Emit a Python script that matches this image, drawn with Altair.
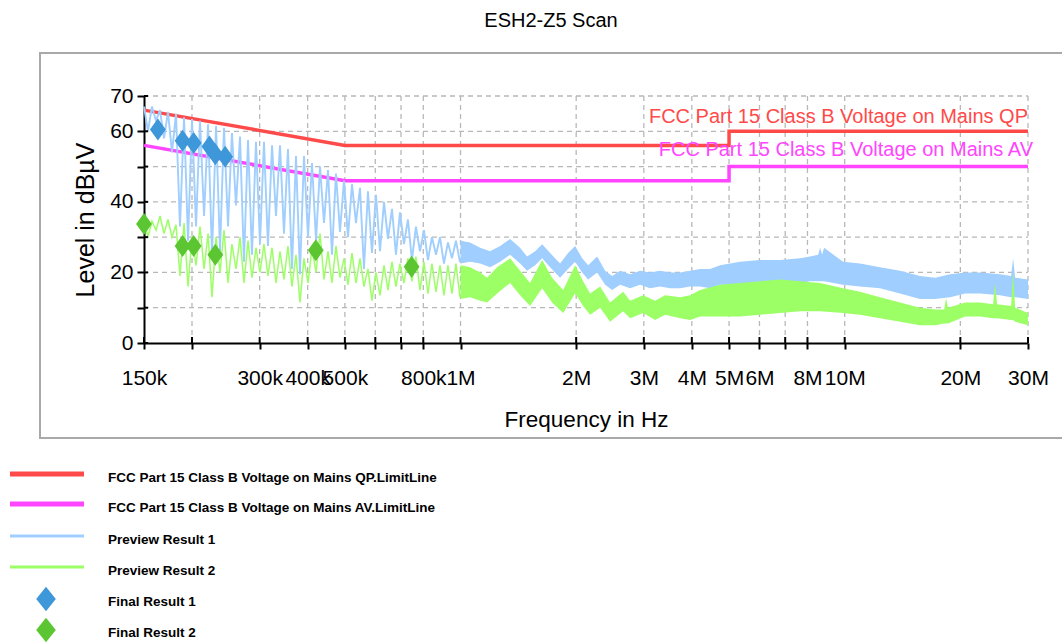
import altair as alt
import pandas as pd

FONT = "Liberation Sans, Arial, sans-serif"

chart_title = "ESH2-Z5 Scan"
x_title = "Frequency in Hz"
y_title = "Level in dBµV"

# axis ticks
x_tick_values = [150e3, 200e3, 300e3, 400e3, 500e3, 600e3, 700e3, 800e3, 1e6,
                 2e6, 3e6, 4e6, 5e6, 6e6, 7e6, 8e6, 10e6, 20e6, 30e6]
x_tick_labels = ["150k", "", "300k", "400k", "500k", "", "", "800k", "1M",
                 "2M", "3M", "4M", "5M", "6M", "", "8M", "10M", "20M", "30M"]
y_tick_values = [0, 10, 20, 30, 40, 50, 60, 70]
y_tick_labels = ["0", "", "20", "", "40", "", "60", "70"]

# limit lines (Hz, dBµV)
qp_name = "FCC Part 15 Class B Voltage  on Mains QP"
qp_freq = [150e3, 500e3, 5e6, 5e6, 30e6]
qp_level = [66, 56, 56, 60, 60]
av_name = "FCC Part 15 Class B Voltage  on Mains AV"
av_freq = [150e3, 500e3, 5e6, 5e6, 30e6]
av_level = [56, 46, 46, 50, 50]

# preview scans below 1 MHz (kHz, dBµV)
scan_khz = [150.0, 153.6, 157.3, 161.2, 165.1, 169.1, 173.2, 177.4, 181.7, 186.1,
            190.7, 195.3, 200.0, 204.9, 209.8, 215.0, 220.2, 225.5, 231.0, 236.6,
            242.3, 248.2, 254.1, 260.4, 266.7, 273.1, 279.8, 286.5, 293.5, 300.6,
            307.9, 315.3, 323.1, 330.9, 338.9, 347.1, 355.5, 364.1, 373.0, 382.0,
            391.3, 400.9, 410.6, 420.6, 430.8, 441.2, 451.9, 462.8, 474.0, 485.5,
            497.4, 509.4, 521.8, 534.4, 547.4, 560.6, 574.2, 588.1, 602.4, 617.1,
            632.1, 647.4, 663.1, 679.1, 695.6, 712.4, 729.7, 747.4, 765.5, 784.2,
            803.2, 822.6, 842.6, 863.2, 884.1, 905.5, 927.4, 949.9, 972.9, 996.5]
preview1_low = [67, 60, 67, 63, 66, 58, 65.5, 54, 65, 33,
                64, 29, 63.5, 33, 63, 36, 62, 25, 61.5, 26,
                61, 33, 59.5, 39, 58.5, 23, 57.5, 25, 57, 28,
                57, 27.5, 56, 36, 56, 31, 55, 21, 53, 19.5,
                53, 30, 51, 29, 50, 34, 49, 25, 48, 31.5,
                46, 30, 45, 34, 44, 21, 43, 25.5, 42, 26,
                40, 29.5, 38, 25, 37, 28, 35, 23.5, 33, 26,
                32, 23.5, 30, 25, 30, 22.5, 28.5, 24, 29, 23]
preview2_low = [35, 30, 34.5, 32, 36, 31, 35, 30, 33.5, 19,
                34, 16, 30, 22, 33, 21, 31, 13, 30, 20,
                32, 17, 28, 21, 30, 17, 29, 18.5, 27, 20,
                28, 19, 27, 17, 26, 18, 27.5, 16, 25, 11.5,
                24, 17, 27, 20, 31, 18, 26, 17, 27.5, 18.5,
                24, 16.5, 25.5, 17, 24, 16, 21, 12, 20, 13.5,
                22, 15, 23, 16, 22.5, 17, 24, 17.5, 24.5, 15,
                23, 14, 22.5, 14.5, 22, 13.5, 22, 14, 22.5, 13]

# preview scans above 1 MHz, min / max of the trace (MHz, dBµV)
p1_mhz = [1.0, 1.059, 1.125, 1.194, 1.268, 1.346, 1.429, 1.490, 1.564, 1.631,
          1.711, 1.816, 1.905, 1.988, 2.073, 2.149, 2.268, 2.379, 2.481, 2.602,
          2.763, 2.933, 3.114, 3.309, 3.513, 3.730, 3.960, 4.204, 4.463, 4.740,
          5.344, 6.025, 6.793, 7.656, 8.13, 8.53, 8.63, 8.73, 8.84, 9.90,
          10.96, 12.36, 13.93, 15.70, 17.19, 18.81, 20.58, 22.49, 25.35, 27.11,
          27.44, 27.77, 30.0]
p1_min = [22.5, 23, 22.5, 21.5, 23, 25, 22.5, 20.5, 22, 24,
          21.5, 18.5, 21, 23, 20, 18, 20, 16.5, 15, 16.5,
          15.5, 16.5, 15.5, 16, 15.5, 15.5, 16, 16, 15.5, 16.5,
          16.5, 17, 17, 17, 17.5, 17.5, 17.5, 17.5, 17.5, 16.5,
          16, 15.5, 14, 12.5, 12.5, 13, 14, 14, 13.5, 13,
          13, 13, 12.5]
p1_max = [29, 28.5, 27, 26, 27.5, 29.5, 27, 24.5, 26, 28,
          25.5, 22.5, 25.5, 27.5, 24, 22, 24.5, 20.5, 19, 20.5,
          19.5, 20.5, 20, 20.5, 20, 20, 20.5, 21, 21, 22,
          23, 23.5, 23.5, 24, 24.5, 25, 27, 25, 27, 23,
          22.5, 21.5, 20.5, 19, 18.5, 19.5, 20, 20, 19.5, 19,
          24, 18.5, 18]

p2_mhz = [1.0, 1.059, 1.125, 1.173, 1.245, 1.346, 1.429, 1.517, 1.631, 1.731,
          1.850, 1.988, 2.085, 2.174, 2.309, 2.451, 2.650, 2.763, 2.988, 3.210,
          3.408, 3.730, 3.960, 4.204, 4.740, 5.344, 6.025, 6.793, 7.656, 8.630,
          9.90, 10.96, 12.36, 13.93, 15.70, 17.19, 18.15, 18.36, 18.58, 20.58,
          22.49, 24.34, 24.63, 24.93, 27.11, 27.44, 27.77, 30.0]
p2_min = [12.5, 13, 12, 11.5, 14, 17, 13.5, 10.5, 15.5, 11.5,
          8.5, 14, 10.5, 8, 10, 6, 9, 7, 8.5, 6.5,
          8, 7, 6.5, 7.5, 7.5, 7.5, 8, 8.5, 9, 9,
          8.5, 8, 7, 6, 5, 5, 5.5, 5.5, 5.5, 7.5,
          7.5, 7, 7, 7, 6.5, 6.5, 6, 5]
p2_max = [22, 21.5, 20, 18.5, 21.5, 24, 20.5, 17, 23.5, 18.5,
          15, 22, 17.5, 14, 16, 11.5, 14.5, 12, 13.5, 12,
          13.5, 13, 13.5, 15, 16.5, 17, 17.5, 18, 17.5, 17,
          15.5, 14.5, 13, 11.5, 10, 9.5, 9.5, 12.7, 10, 11.5,
          11.5, 11, 17, 11, 10.5, 20, 10, 8.5]

# final measurements (kHz, dBµV)
final1_khz = [163, 189, 202, 222, 230, 244]
final1_level = [60.5, 57.3, 56.7, 55.7, 53.5, 52.8]
final2_khz = [150, 189, 202, 230, 420, 746]
final2_level = [33.7, 27.5, 27.5, 25.0, 26.3, 21.6]

legend_names = [qp_name + ".LimitLine", av_name + ".LimitLine",
                "Preview Result 1", "Preview Result 2",
                "Final Result 1", "Final Result 2"]

C_QP = "#ff4a4a"
C_AV = "#ff45ff"
C_P1 = "#9fceff"
C_P2 = "#9cff66"
C_F1 = "#3d97d8"
C_F2 = "#5cc632"
GRID = "#b8b8b8"

DIAMOND = "M-0.72,0L0,-1L0.72,0L0,1Z"
LEG_DIAMOND = "M-0.8,0L0,-1L0.8,0L0,1Z"

W, H = 884, 247
PAD = {"left": 144, "top": 96, "right": 34, "bottom": 301}


def label_expr(values, labels):
    expr = "''"
    for v, lab in zip(reversed(values), reversed(labels)):
        expr = f"datum.value == {v!r} ? '{lab}' : ({expr})"
    return expr


x_scale = alt.Scale(type="log", domain=[150e3, 30e6], nice=False)
y_scale = alt.Scale(domain=[0, 70], nice=False, zero=False)

x_axis = alt.Axis(values=x_tick_values, labelExpr=label_expr(x_tick_values, x_tick_labels),
                  grid=False, domainColor="black", domainWidth=2,
                  tickColor="black", tickWidth=2, tickSize=6,
                  labelFont=FONT, labelFontSize=21, labelColor="black",
                  labelPadding=18, labelOverlap=False, labelFlush=False,
                  labelBound=False, title=x_title, titleFont=FONT, titleFontSize=22.5,
                  titleFontWeight="normal", titleColor="black", titlePadding=20)
y_axis = alt.Axis(values=y_tick_values, labelExpr=label_expr(y_tick_values, y_tick_labels),
                  grid=False, domainColor="black", domainWidth=2,
                  tickColor="black", tickWidth=2, tickSize=7,
                  labelFont=FONT, labelFontSize=21, labelColor="black",
                  labelPadding=4, labelOverlap=False, labelFlush=False,
                  title=y_title, titleFont=FONT, titleFontSize=25,
                  titleFontWeight="normal", titleColor="black", titlePadding=11)


def X(field):
    return alt.X(f"{field}:Q", scale=x_scale, axis=x_axis)


def Y(field):
    return alt.Y(f"{field}:Q", scale=y_scale, axis=y_axis)


one = pd.DataFrame({"k": [0]})

# outer frame of the plot panel
frame = alt.Chart(one).mark_rect(filled=False, stroke="#a9a9a9", strokeWidth=2).encode(
    x=alt.value(-104), x2=alt.value(940), y=alt.value(-43), y2=alt.value(342))

title = alt.Chart(one).mark_text(text=chart_title, font=FONT, fontSize=20,
                                 color="black", baseline="middle").encode(
    x=alt.value(407), y=alt.value(-75))

# dashed grid at every tick except the axis lines themselves
grid_x = alt.Chart(pd.DataFrame({"f": [v for v in x_tick_values if v > x_tick_values[0]]})).mark_rule(
    color=GRID, strokeWidth=1.3, strokeDash=[5, 4]).encode(
    x=X("f"), y=alt.value(0), y2=alt.value(H))
grid_y = alt.Chart(pd.DataFrame({"v": [v for v in y_tick_values if v > y_tick_values[0]]})).mark_rule(
    color=GRID, strokeWidth=1.3, strokeDash=[5, 4]).encode(
    y=Y("v"), x=alt.value(0), x2=alt.value(W))

# inner halves of the tick marks (ticks cross the axis lines)
xt = alt.Chart(pd.DataFrame({"f": x_tick_values})).mark_rule(color="black", strokeWidth=2).encode(
    x=X("f"), y=alt.value(H), y2=alt.value(H - 6))
yt = alt.Chart(pd.DataFrame({"v": y_tick_values})).mark_rule(color="black", strokeWidth=2).encode(
    y=Y("v"), x=alt.value(0), x2=alt.value(4))

qp = alt.Chart(pd.DataFrame({"f": qp_freq, "v": qp_level})).mark_line(
    color=C_QP, strokeWidth=3.5).encode(x=X("f"), y=Y("v"))
av = alt.Chart(pd.DataFrame({"f": av_freq, "v": av_level})).mark_line(
    color=C_AV, strokeWidth=3.5).encode(x=X("f"), y=Y("v"))

qp_lab = alt.Chart(pd.DataFrame({"f": [qp_freq[-1]], "v": [qp_level[-1]]})).mark_text(
    text=qp_name, font=FONT, fontSize=20, color=C_QP, align="right",
    baseline="alphabetic", dy=-8).encode(x=X("f"), y=Y("v"))
av_lab = alt.Chart(pd.DataFrame({"f": [av_freq[-1]], "v": [av_level[-1]]})).mark_text(
    text=av_name, font=FONT, fontSize=20, color=C_AV, align="right",
    baseline="alphabetic", dx=5, dy=-11).encode(x=X("f"), y=Y("v"))

low = pd.DataFrame({"f": [k * 1e3 for k in scan_khz], "p1": preview1_low, "p2": preview2_low})
p1_line = alt.Chart(low).mark_line(color=C_P1, strokeWidth=1.9).encode(x=X("f"), y=Y("p1"))
p2_line = alt.Chart(low).mark_line(color=C_P2, strokeWidth=1.5).encode(x=X("f"), y=Y("p2"))

b1 = pd.DataFrame({"f": [m * 1e6 for m in p1_mhz], "lo": p1_min, "hi": p1_max})
b2 = pd.DataFrame({"f": [m * 1e6 for m in p2_mhz], "lo": p2_min, "hi": p2_max})
p1_band = alt.Chart(b1).mark_area(color=C_P1, opacity=1).encode(
    x=X("f"), y=Y("lo"), y2="hi:Q")
p2_band = alt.Chart(b2).mark_area(color=C_P2, opacity=1).encode(
    x=X("f"), y=Y("lo"), y2="hi:Q")

f1 = alt.Chart(pd.DataFrame({"f": [k * 1e3 for k in final1_khz], "v": final1_level})).mark_point(
    shape=DIAMOND, size=484, filled=True, opacity=1, color=C_F1).encode(x=X("f"), y=Y("v"))
f2 = alt.Chart(pd.DataFrame({"f": [k * 1e3 for k in final2_khz], "v": final2_level})).mark_point(
    shape=DIAMOND, size=484, filled=True, opacity=1, color=C_F2).encode(x=X("f"), y=Y("v"))

# legend below the panel
leg_y = [382, 412, 444, 475, 506, 537]      # text rows, relative to plot top
legend_layers = []
styles = [("line", C_QP, 5), ("line", C_AV, 5), ("line", C_P1, 3), ("line", C_P2, 3),
          ("diamond", C_F1, 0), ("diamond", C_F2, 0)]
for name, yy, (kind, col, w) in zip(legend_names, leg_y, styles):
    if kind == "line":
        legend_layers.append(alt.Chart(one).mark_rule(color=col, strokeWidth=w).encode(
            x=alt.value(-134), x2=alt.value(-60), y=alt.value(yy - 4)))
    else:
        legend_layers.append(alt.Chart(one).mark_point(
            shape=LEG_DIAMOND, size=600, filled=True, opacity=1, color=col).encode(
            x=alt.value(-98), y=alt.value(yy - 3)))
    legend_layers.append(alt.Chart(one).mark_text(
        text=name, font=FONT, fontSize=13.5, fontWeight="bold", color="black",
        align="left", baseline="middle").encode(x=alt.value(-36), y=alt.value(yy)))

chart = alt.layer(
    frame, title, grid_x, grid_y, qp, av, qp_lab, av_lab,
    p1_line, p1_band, p2_line, p2_band, xt, yt, f1, f2, *legend_layers
).properties(
    width=W, height=H, autosize=alt.AutoSizeParams(type="none"), padding=PAD,
    background="white"
).configure_view(strokeWidth=0)

chart.save("out.html", embed_options={"renderer": "svg", "actions": False})
